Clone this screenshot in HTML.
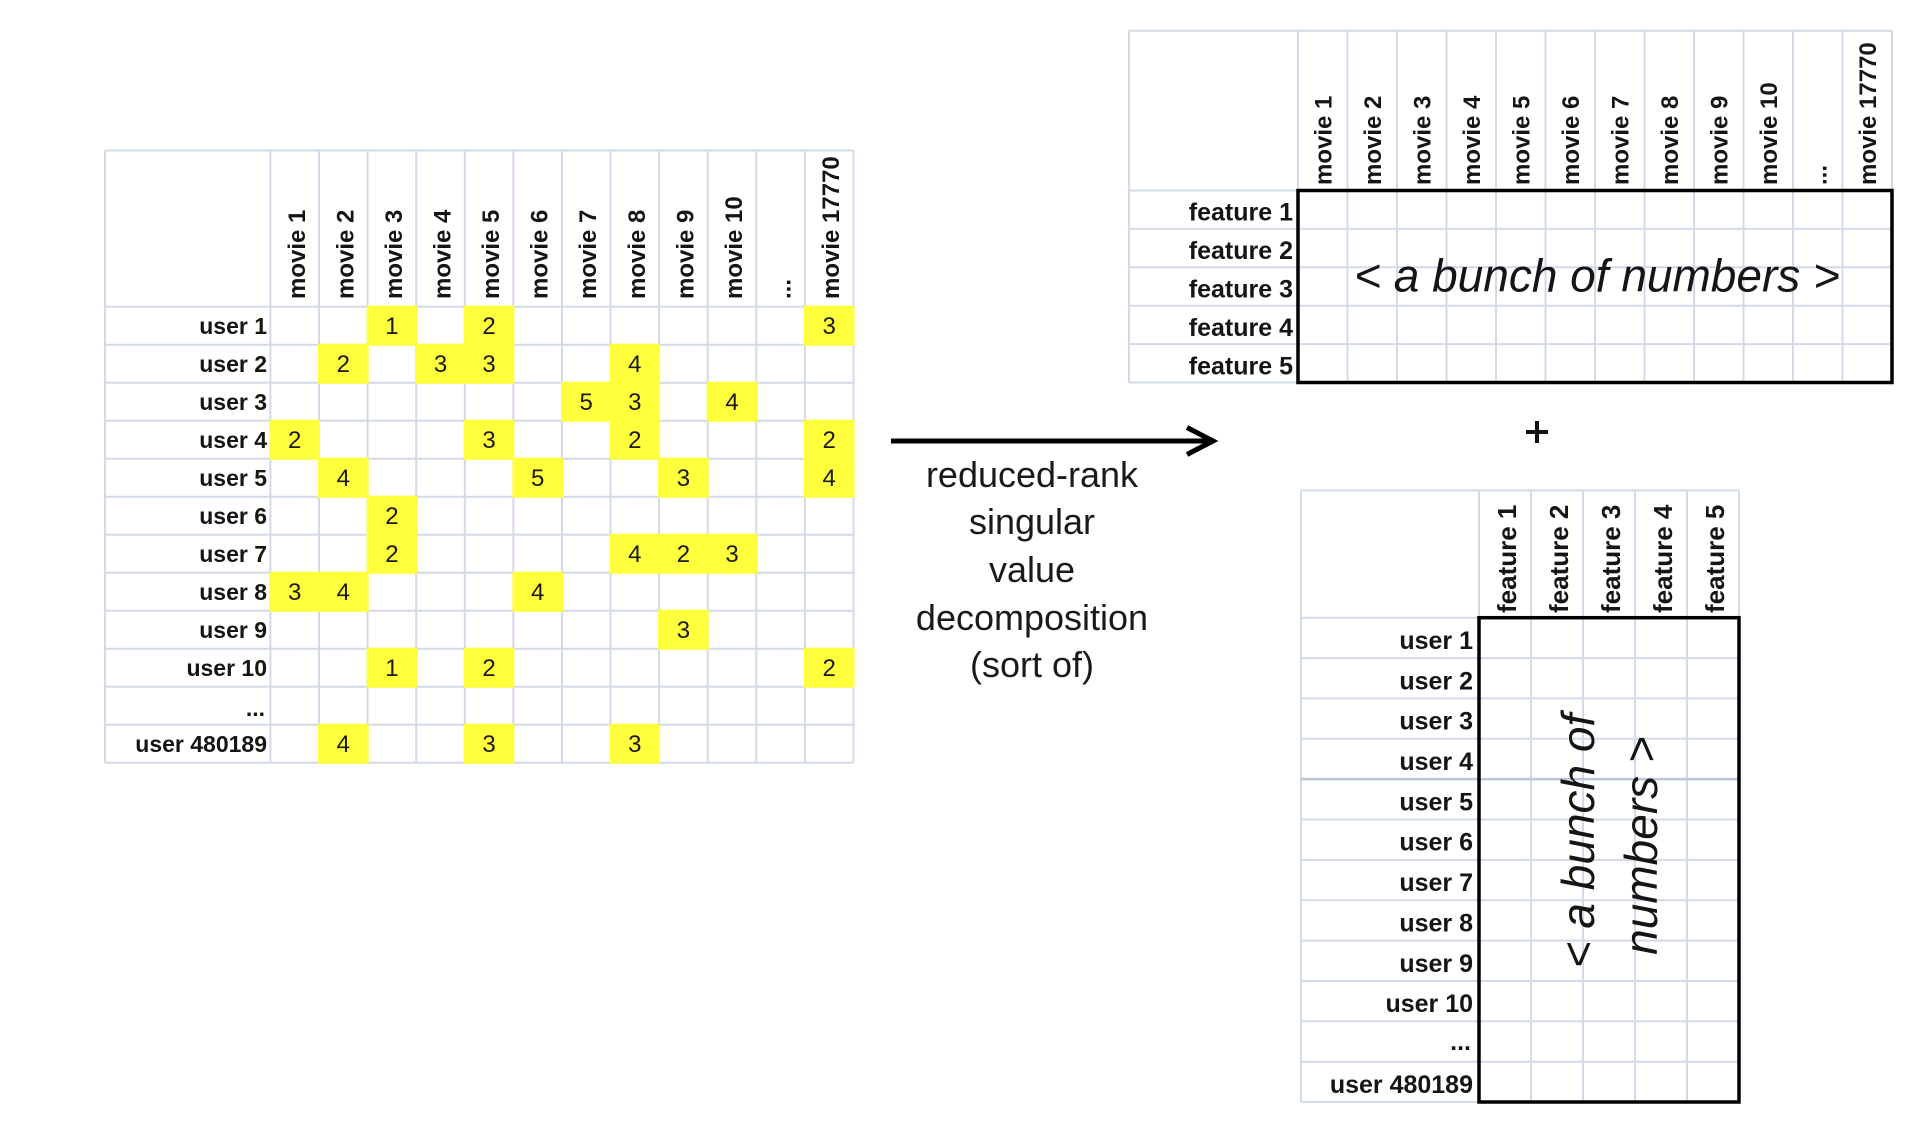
<!DOCTYPE html>
<html>
<head>
<meta charset="utf-8">
<style>
html,body{margin:0;padding:0;background:#ffffff;}
body{width:1922px;height:1132px;overflow:hidden;}
svg{display:block;}
.lbl{font-family:"Liberation Sans",sans-serif;font-weight:bold;fill:#151515;}
.num{font-family:"Liberation Sans",sans-serif;font-size:24px;fill:#1a1a1a;text-anchor:middle;}
.it{font-family:"Liberation Sans",sans-serif;font-style:italic;fill:#151515;text-anchor:middle;}
.mid{font-family:"Liberation Sans",sans-serif;font-size:36px;fill:#1a1a1a;text-anchor:middle;}
</style>
</head>
<body>
<svg width="1922" height="1132" viewBox="0 0 1922 1132" xmlns="http://www.w3.org/2000/svg">
<rect width="1922" height="1132" fill="#ffffff"/>

<!-- ===== LEFT TABLE ===== -->
<path fill="none" stroke="#d2d9e8" stroke-width="2" d="
M105 150.5H853.5 M105 306.7H853.5 M105 344.7H853.5 M105 382.7H853.5 M105 420.7H853.5 M105 458.7H853.5 M105 496.7H853.5 M105 534.7H853.5 M105 572.7H853.5 M105 610.7H853.5 M105 648.7H853.5 M105 686.7H853.5 M105 724.7H853.5 M105 762.7H853.5
M105 150.5V762.7 M270.4 150.5V762.7 M319 150.5V762.7 M367.6 150.5V762.7 M416.2 150.5V762.7 M464.8 150.5V762.7 M513.4 150.5V762.7 M562 150.5V762.7 M610.5 150.5V762.7 M659.1 150.5V762.7 M707.7 150.5V762.7 M756.3 150.5V762.7 M804.9 150.5V762.7 M853.5 150.5V762.7"/>

<g fill="#ffff3c">
<!-- r1 -->
<rect x="366.6" y="305.7" width="50.6" height="40"/>
<rect x="463.8" y="305.7" width="50.6" height="40"/>
<rect x="803.9" y="305.7" width="50.6" height="40"/>
<!-- r2 -->
<rect x="318" y="343.7" width="50.6" height="40"/>
<rect x="415.2" y="343.7" width="50.6" height="40"/>
<rect x="463.8" y="343.7" width="50.6" height="40"/>
<rect x="609.5" y="343.7" width="50.6" height="40"/>
<!-- r3 -->
<rect x="561" y="381.7" width="50.6" height="40"/>
<rect x="609.5" y="381.7" width="50.6" height="40"/>
<rect x="706.7" y="381.7" width="50.6" height="40"/>
<!-- r4 -->
<rect x="269.4" y="419.7" width="50.6" height="40"/>
<rect x="463.8" y="419.7" width="50.6" height="40"/>
<rect x="609.5" y="419.7" width="50.6" height="40"/>
<rect x="803.9" y="419.7" width="50.6" height="40"/>
<!-- r5 -->
<rect x="318" y="457.7" width="50.6" height="40"/>
<rect x="512.4" y="457.7" width="50.6" height="40"/>
<rect x="658.1" y="457.7" width="50.6" height="40"/>
<rect x="803.9" y="457.7" width="50.6" height="40"/>
<!-- r6 -->
<rect x="366.6" y="495.7" width="50.6" height="40"/>
<!-- r7 -->
<rect x="366.6" y="533.7" width="50.6" height="40"/>
<rect x="609.5" y="533.7" width="50.6" height="40"/>
<rect x="658.1" y="533.7" width="50.6" height="40"/>
<rect x="706.7" y="533.7" width="50.6" height="40"/>
<!-- r8 -->
<rect x="269.4" y="571.7" width="50.6" height="40"/>
<rect x="318" y="571.7" width="50.6" height="40"/>
<rect x="512.4" y="571.7" width="50.6" height="40"/>
<!-- r9 -->
<rect x="658.1" y="609.7" width="50.6" height="40"/>
<!-- r10 -->
<rect x="366.6" y="647.7" width="50.6" height="40"/>
<rect x="463.8" y="647.7" width="50.6" height="40"/>
<rect x="803.9" y="647.7" width="50.6" height="40"/>
<!-- r12 -->
<rect x="318" y="723.7" width="50.6" height="40"/>
<rect x="463.8" y="723.7" width="50.6" height="40"/>
<rect x="609.5" y="723.7" width="50.6" height="40"/>
</g>

<g class="num">
<text x="391.9" y="334.2">1</text><text x="489.1" y="334.2">2</text><text x="829.2" y="334.2">3</text>
<text x="343.3" y="372.2">2</text><text x="440.5" y="372.2">3</text><text x="489.1" y="372.2">3</text><text x="634.8" y="372.2">4</text>
<text x="586.2" y="410.2">5</text><text x="634.8" y="410.2">3</text><text x="732" y="410.2">4</text>
<text x="294.7" y="448.2">2</text><text x="489.1" y="448.2">3</text><text x="634.8" y="448.2">2</text><text x="829.2" y="448.2">2</text>
<text x="343.3" y="486.2">4</text><text x="537.7" y="486.2">5</text><text x="683.4" y="486.2">3</text><text x="829.2" y="486.2">4</text>
<text x="391.9" y="524.2">2</text>
<text x="391.9" y="562.2">2</text><text x="634.8" y="562.2">4</text><text x="683.4" y="562.2">2</text><text x="732" y="562.2">3</text>
<text x="294.7" y="600.2">3</text><text x="343.3" y="600.2">4</text><text x="537.7" y="600.2">4</text>
<text x="683.4" y="638.2">3</text>
<text x="391.9" y="676.2">1</text><text x="489.1" y="676.2">2</text><text x="829.2" y="676.2">2</text>
<text x="343.3" y="752.2">4</text><text x="489.1" y="752.2">3</text><text x="634.8" y="752.2">3</text>
</g>

<g class="lbl" font-size="23" text-anchor="end">
<text x="267" y="334.2">user 1</text>
<text x="267" y="372.2">user 2</text>
<text x="267" y="410.2">user 3</text>
<text x="267" y="448.2">user 4</text>
<text x="267" y="486.2">user 5</text>
<text x="267" y="524.2">user 6</text>
<text x="267" y="562.2">user 7</text>
<text x="267" y="600.2">user 8</text>
<text x="267" y="638.2">user 9</text>
<text x="267" y="676.2">user 10</text>
<text x="265" y="716">...</text>
<text x="267" y="752.2">user 480189</text>
</g>

<g class="lbl" font-size="24">
<text transform="translate(305,299) rotate(-90)">movie 1</text>
<text transform="translate(353.3,299) rotate(-90)">movie 2</text>
<text transform="translate(401.9,299) rotate(-90)">movie 3</text>
<text transform="translate(450.5,299) rotate(-90)">movie 4</text>
<text transform="translate(499.1,299) rotate(-90)">movie 5</text>
<text transform="translate(547.7,299) rotate(-90)">movie 6</text>
<text transform="translate(596.2,299) rotate(-90)">movie 7</text>
<text transform="translate(644.8,299) rotate(-90)">movie 8</text>
<text transform="translate(693.4,299) rotate(-90)">movie 9</text>
<text transform="translate(742,299) rotate(-90)">movie 10</text>
<text transform="translate(790.6,299) rotate(-90)">...</text>
<text transform="translate(839.2,299) rotate(-90)">movie 17770</text>
</g>

<!-- ===== ARROW + MIDDLE TEXT ===== -->
<line x1="891" y1="441" x2="1210" y2="441" stroke="#000" stroke-width="5"/>
<polyline points="1187,427.5 1213,441 1187,454.5" fill="none" stroke="#000" stroke-width="5" stroke-linejoin="miter"/>
<g class="mid">
<text x="1032" y="487">reduced-rank</text>
<text x="1032" y="534">singular</text>
<text x="1032" y="582">value</text>
<text x="1032" y="630">decomposition</text>
<text x="1032" y="677">(sort of)</text>
</g>

<!-- plus -->
<line x1="1526" y1="432" x2="1548" y2="432" stroke="#111" stroke-width="4"/>
<line x1="1537" y1="421" x2="1537" y2="443" stroke="#111" stroke-width="4"/>

<!-- ===== TOP RIGHT TABLE ===== -->
<path fill="none" stroke="#d2d9e8" stroke-width="2" d="
M1129 30.7H1892 M1129 190.5H1892 M1129 228.9H1892 M1129 267.3H1892 M1129 305.7H1892 M1129 344.1H1892 M1129 382.5H1892
M1129 30.7V382.5 M1298 30.7V382.5 M1347.5 30.7V382.5 M1397 30.7V382.5 M1446.5 30.7V382.5 M1496 30.7V382.5 M1545.5 30.7V382.5 M1595 30.7V382.5 M1644.5 30.7V382.5 M1694 30.7V382.5 M1743.5 30.7V382.5 M1793 30.7V382.5 M1842.5 30.7V382.5 M1892 30.7V382.5"/>
<rect x="1298" y="190.5" width="594" height="192" fill="none" stroke="#000" stroke-width="3.5"/>

<g class="lbl" font-size="24">
<text transform="translate(1331.5,185) rotate(-90)">movie 1</text>
<text transform="translate(1381,185) rotate(-90)">movie 2</text>
<text transform="translate(1430.5,185) rotate(-90)">movie 3</text>
<text transform="translate(1480,185) rotate(-90)">movie 4</text>
<text transform="translate(1529.5,185) rotate(-90)">movie 5</text>
<text transform="translate(1579,185) rotate(-90)">movie 6</text>
<text transform="translate(1628.5,185) rotate(-90)">movie 7</text>
<text transform="translate(1678,185) rotate(-90)">movie 8</text>
<text transform="translate(1727.5,185) rotate(-90)">movie 9</text>
<text transform="translate(1777,185) rotate(-90)">movie 10</text>
<text transform="translate(1826.5,185) rotate(-90)">...</text>
<text transform="translate(1876,185) rotate(-90)">movie 17770</text>
</g>
<g class="lbl" font-size="25" text-anchor="end">
<text x="1293" y="220.7">feature 1</text>
<text x="1293" y="259.1">feature 2</text>
<text x="1293" y="297.5">feature 3</text>
<text x="1293" y="335.9">feature 4</text>
<text x="1293" y="374.3">feature 5</text>
</g>
<text class="it" font-size="46" x="1597" y="291.5">&lt; a bunch of numbers &gt;</text>

<!-- ===== BOTTOM RIGHT TABLE ===== -->
<path fill="none" stroke="#d2d9e8" stroke-width="2" d="
M1301 490.5H1739 M1301 617.7H1739 M1301 658.1H1739 M1301 698.4H1739 M1301 738.8H1739 M1301 819.5H1739 M1301 859.9H1739 M1301 900.2H1739 M1301 940.6H1739 M1301 981H1739 M1301 1021.3H1739 M1301 1061.7H1739 M1301 1102H1739
M1301 490.5V1102 M1479 490.5V1102 M1531 490.5V1102 M1583 490.5V1102 M1635 490.5V1102 M1687 490.5V1102 M1739 490.5V1102"/>
<line x1="1301" y1="779.1" x2="1739" y2="779.1" stroke="#bcc6da" stroke-width="2.5"/>
<rect x="1479" y="617.7" width="260" height="484.3" fill="none" stroke="#000" stroke-width="3.5"/>

<g class="lbl" font-size="26">
<text transform="translate(1516,613) rotate(-90)">feature 1</text>
<text transform="translate(1568,613) rotate(-90)">feature 2</text>
<text transform="translate(1620,613) rotate(-90)">feature 3</text>
<text transform="translate(1672,613) rotate(-90)">feature 4</text>
<text transform="translate(1724,613) rotate(-90)">feature 5</text>
</g>
<g class="lbl" font-size="25" text-anchor="end">
<text x="1473" y="649">user 1</text>
<text x="1473" y="689.3">user 2</text>
<text x="1473" y="729.7">user 3</text>
<text x="1473" y="770">user 4</text>
<text x="1473" y="810.4">user 5</text>
<text x="1473" y="850.7">user 6</text>
<text x="1473" y="891.1">user 7</text>
<text x="1473" y="931.5">user 8</text>
<text x="1473" y="971.8">user 9</text>
<text x="1473" y="1012.2">user 10</text>
<text x="1471" y="1050">...</text>
<text x="1473" y="1093">user 480189</text>
</g>
<text class="it" font-size="46" transform="translate(1594,841) rotate(-90)">&lt; a bunch of</text>
<text class="it" font-size="46" transform="translate(1657,845.5) rotate(-90)">numbers &gt;</text>
</svg>
</body>
</html>
